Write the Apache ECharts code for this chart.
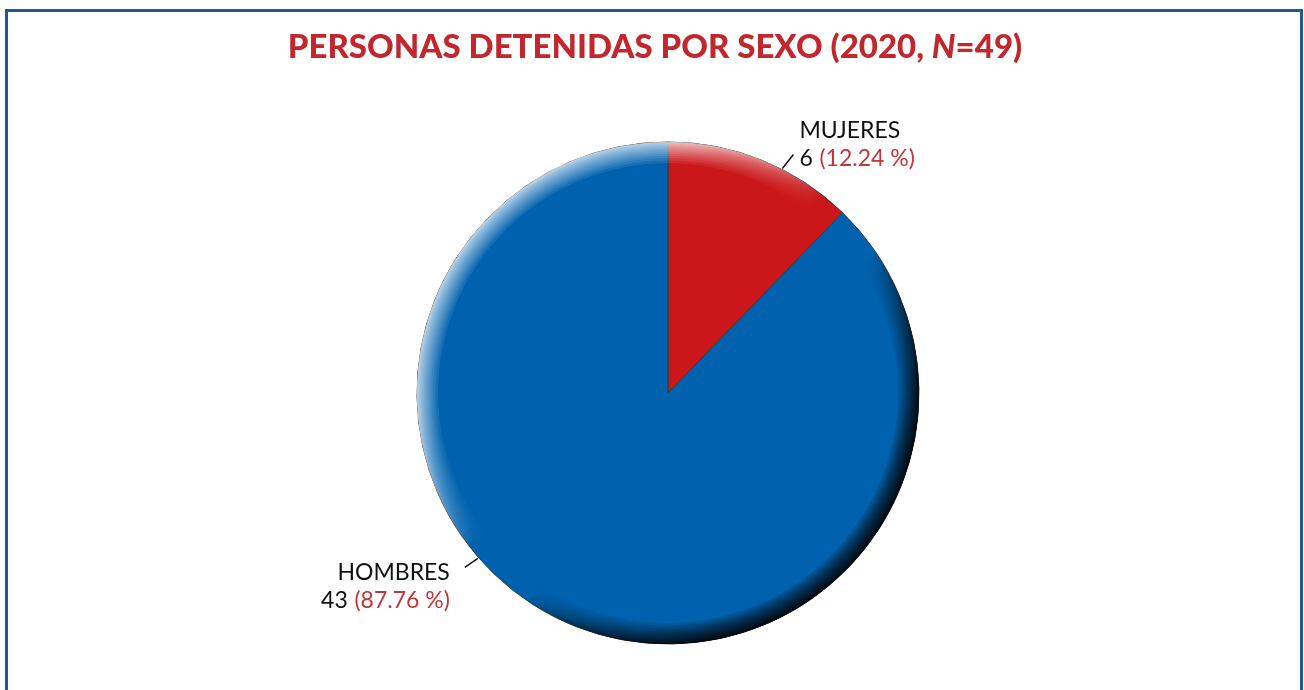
<!DOCTYPE html>
<html>
<head>
<meta charset="utf-8">
<style>
  html, body { margin: 0; padding: 0; background: #ffffff; }
  #chart { width: 1304px; height: 690px; }
</style>
<script src="https://cdn.jsdelivr.net/npm/echarts@6/dist/echarts.min.js"></script>
</head>
<body>
<div id="chart"></div>
<script>
// Detained persons by sex, 2020
const categories = ['MUJERES', 'HOMBRES'];
const counts = [6, 43];
const sliceColors = ['#cb1719', '#0062ae'];

const CENTER = [668, 393];
const RADIUS = 251;
// where each label's leader line touches the rim (degrees clockwise from 12 o'clock)
const anchorAngles = [27, 229];

const chart = echarts.init(document.getElementById('chart'), null, { renderer: 'canvas' });

function rimPoint(deg, r) {
  const a = deg * Math.PI / 180;
  return [CENTER[0] + r * Math.sin(a), CENTER[1] - r * Math.cos(a)];
}

// bevel: nested rings that all reach the rim, so their translucent fills
// stack up toward the edge; lit from the upper left, shaded to the lower right
const bevelRings = [];
const ringCount = 16;
const bevelWidth = 21;
const lightA = 0.085;
const darkA = 0.15;
for (let i = 1; i <= ringCount; i++) {
  const inner = RADIUS - bevelWidth * Math.pow(i / ringCount, 2);
  bevelRings.push({
    type: 'pie',
    silent: true,
    center: CENTER,
    radius: [inner, RADIUS],
    startAngle: 90,
    label: { show: false },
    labelLine: { show: false },
    emphasis: { disabled: true },
    itemStyle: {
      borderWidth: 0,
      color: {
        type: 'linear', x: 0, y: 0, x2: 1, y2: 1,
        colorStops: [
          { offset: 0, color: 'rgba(255,255,255,' + lightA + ')' },
          { offset: 0.27, color: 'rgba(255,255,255,' + lightA + ')' },
          { offset: 0.46, color: 'rgba(255,255,255,0)' },
          { offset: 0.56, color: 'rgba(0,0,0,0)' },
          { offset: 0.78, color: 'rgba(0,0,0,' + darkA + ')' },
          { offset: 1, color: 'rgba(0,0,0,' + darkA + ')' }
        ]
      }
    },
    data: [{ value: 1 }],
    z: 3
  });
}

const sliceData = categories.map((name, i) => ({
  name: name,
  value: counts[i],
  itemStyle: { color: sliceColors[i] }
}));

const option = {
  animation: false,
  title: {
    text: '{t|PERSONAS DETENIDAS POR SEXO (2020, }{i|N}{t|=49)}',
    left: 650,
    top: 26,
    textAlign: 'center',
    textStyle: {
      rich: {
        t: { fontFamily: 'Lato', fontWeight: 900, fontSize: 33, color: '#c1272d' },
        i: { fontFamily: 'Lato', fontWeight: 900, fontStyle: 'italic', fontSize: 33, color: '#c1272d' }
      }
    }
  },
  graphic: [{
    type: 'rect',
    silent: true,
    shape: { x: 6.5, y: 10.5, width: 1295, height: 700 },
    style: { fill: 'none', stroke: '#1d5a91', lineWidth: 3 },
    z: 0
  }],
  series: [{
    type: 'pie',
    center: CENTER,
    radius: [0, RADIUS],
    startAngle: 90,
    clockwise: true,
    avoidLabelOverlap: false,
    emphasis: { disabled: true },
    itemStyle: { borderColor: '#3a3a3a', borderWidth: 1 },
    data: sliceData,
    label: {
      show: true,
      position: 'outside',
      formatter: function (p) {
        return '{n|' + p.name + '}\n{v|' + p.value + '}  {p|(' + p.percent.toFixed(2) + ' %)}';
      },
      rich: {
        n: { fontFamily: 'Lato', fontSize: 23, color: '#111111', lineHeight: 28 },
        v: { fontFamily: 'Lato', fontSize: 23, color: '#111111', lineHeight: 28 },
        p: { fontFamily: 'Lato', fontSize: 23, color: '#c1353b', lineHeight: 28 }
      }
    },
    labelLine: { show: true, lineStyle: { color: '#111111', width: 1.5 } },
    labelLayout: function (params) {
      const idx = params.dataIndex;
      const start = rimPoint(anchorAngles[idx], RADIUS + 1);
      if (idx === 0) {
        const end = [start[0] + 11, start[1] - 14];
        return {
          x: end[0] + 6, y: end[1] - 10,
          align: 'left', verticalAlign: 'middle',
          labelLinePoints: [start, end, end]
        };
      }
      const end = [start[0] - 13, start[1] + 9];
      return {
        x: end[0] - 15, y: end[1] + 19,
        align: 'right', verticalAlign: 'middle',
        labelLinePoints: [start, end, end]
      };
    },
    z: 2
  }].concat(bevelRings)
};

chart.setOption(option);
</script>
</body>
</html>
